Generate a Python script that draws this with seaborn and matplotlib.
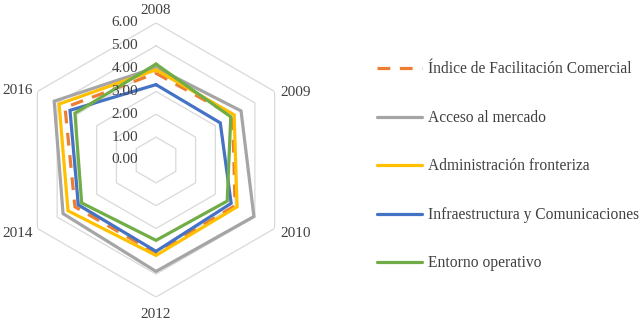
import numpy as np
import pandas as pd
import matplotlib.pyplot as plt
import seaborn as sns

years = ["2008", "2009", "2010", "2012", "2014", "2016"]
series_names = [
    "Índice de Facilitación Comercial",
    "Acceso al mercado",
    "Administración fronteriza",
    "Infraestructura y Comunicaciones",
    "Entorno operativo",
]
indice = [3.80, 3.88, 4.00, 4.08, 4.10, 4.60]
acceso = [4.05, 4.30, 4.95, 4.88, 4.70, 5.15]
administracion = [3.95, 3.95, 4.10, 4.18, 4.45, 4.90]
infraestructura = [3.30, 3.25, 3.80, 4.00, 3.93, 4.35]
entorno = [4.20, 3.78, 3.60, 3.52, 3.76, 4.10]
r_ticks = [0, 1, 2, 3, 4, 5, 6]

colors = ["#ED7D31", "#A5A5A5", "#FFC000", "#4472C4", "#70AD47"]
text_color = "#404040"

sns.set_theme(style="white")
plt.rcParams["font.family"] = ["Liberation Serif", "DejaVu Serif"]

n = len(years)
angles = np.linspace(0, 2 * np.pi, n, endpoint=False)
closed = np.append(angles, angles[0])

fig = plt.figure(figsize=(6.44, 3.21), dpi=100)
ax = fig.add_axes([0.0295, 0.0748, 0.4255, 0.8536], projection="polar")
ax.set_theta_zero_location("N")
ax.set_theta_direction(-1)
ax.set_ylim(0, 6)
ax.grid(False)
ax.spines["polar"].set_visible(False)
ax.set_xticks([])
ax.set_yticks([])
ax.patch.set_alpha(0)

# hexagonal grid
for r in r_ticks:
    ax.plot(closed, [r] * len(closed), color="#D9D9D9", lw=0.9, zorder=1)

all_series = [indice, acceso, administracion, infraestructura, entorno]
handles = []
for name, vals, col in zip(series_names, all_series, colors):
    df = pd.DataFrame({"angle": closed, "value": vals + [vals[0]]})
    sns.lineplot(data=df, x="angle", y="value", sort=False, estimator=None,
                 color=col, lw=2.3, ax=ax, zorder=3)
    line = ax.lines[-1]
    line.set_solid_joinstyle("miter")
    if name.startswith("Índice"):
        line.set_dashes((4, 3))
    handles.append(line)
ax.set_xlabel("")
ax.set_ylabel("")

# radial tick labels along the 2008 axis
for r in r_ticks:
    ax.annotate(f"{r:.2f}", xy=(0, r), xytext=(-13, 0), textcoords="offset points",
                ha="right", va="center", fontsize=11, color=text_color)

# category labels
offsets = [(0, 9, "center"), (4, -1, "left"), (4, -3.5, "left"),
           (0, -12.5, "center"), (-3, -3.5, "right"), (-3, 1, "right")]
for ang, yr, (dx, dy, ha) in zip(angles, years, offsets):
    ax.annotate(yr, xy=(ang, 6), xytext=(dx, dy), textcoords="offset points",
                ha=ha, va="center", fontsize=11, color=text_color,
                annotation_clip=False)

fig.legend(handles, series_names, loc="upper left", bbox_to_anchor=(0.575, 0.828),
           frameon=False, fontsize=11.2, handlelength=2.95, handletextpad=0.35,
           labelspacing=2.09, borderaxespad=0, labelcolor=text_color)

fig.savefig("out.png", dpi=100)
